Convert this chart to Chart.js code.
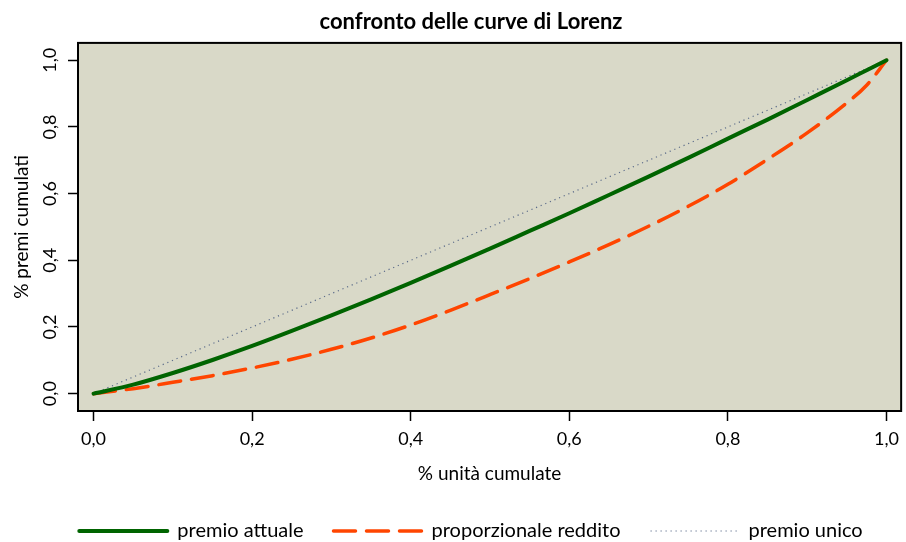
<!DOCTYPE html>
<html>
<head>
<meta charset="utf-8">
<title>confronto delle curve di Lorenz</title>
<script src="https://cdn.jsdelivr.net/npm/chart.js@4"></script>
<style>
    html, body { margin: 0; padding: 0; background: #ffffff; }
    #wrap { width: 906px; height: 542px; }
</style>
</head>
<body>
<div id="wrap"><canvas id="lorenzChart" width="906" height="542"></canvas></div>
<script>
// Data
const quoteUnita = [0, 0.05, 0.1, 0.15, 0.2, 0.25, 0.3, 0.35, 0.4, 0.45, 0.5,
    0.55, 0.6, 0.65, 0.7, 0.75, 0.8, 0.85, 0.9, 0.95, 0.975, 1];
const premioAttuale = [0, 0.027, 0.062, 0.101, 0.143, 0.188, 0.235, 0.283, 0.332, 0.383, 0.435,
    0.488, 0.541, 0.596, 0.651, 0.707, 0.765, 0.822, 0.881, 0.940, 0.970, 1];
const proporzionaleReddito = [0, 0.015, 0.034, 0.054, 0.077, 0.103, 0.133, 0.167, 0.206, 0.250, 0.297,
    0.345, 0.395, 0.447, 0.502, 0.562, 0.628, 0.703, 0.782, 0.872, 0.925, 1];
const premioUnicoX = [0, 1];
const premioUnico = [0, 1];
const tickValues = [0, 0.2, 0.4, 0.6, 0.8, 1.0];
const seriesLabels = ['premio attuale', 'proporzionale reddito', 'premio unico'];

const FONT = 'Lato, "DejaVu Sans", sans-serif';

function toPoints(xs, ys) {
    return xs.map((x, i) => ({ x: x, y: ys[i] }));
}

function fmt(v) {
    return Number(v).toFixed(1).replace('.', ',');
}

// Plot panel: beige background and black frame
const panelBox = {
    id: 'panelBox',
    beforeDatasetsDraw(chart) {
        const { ctx, chartArea: a } = chart;
        ctx.save();
        ctx.fillStyle = '#d9d9c8';
        ctx.fillRect(a.left, a.top, a.width, a.height);
        ctx.restore();
    },
    afterDatasetsDraw(chart) {
        const { ctx, chartArea: a } = chart;
        ctx.save();
        ctx.strokeStyle = '#000';
        ctx.lineWidth = 2;
        ctx.strokeRect(a.left, a.top, a.width, a.height);
        ctx.restore();
    }
};

const ctx = document.getElementById('lorenzChart').getContext('2d');

new Chart(ctx, {
    type: 'line',
    data: {
        datasets: [
            {
                label: seriesLabels[0],
                data: toPoints(quoteUnita, premioAttuale),
                borderColor: '#006400',
                borderWidth: 4,
                borderCapStyle: 'round',
                pointRadius: 0,
                cubicInterpolationMode: 'monotone'
            },
            {
                label: seriesLabels[1],
                data: toPoints(quoteUnita, proporzionaleReddito),
                borderColor: '#ff4500',
                borderWidth: 3.5,
                borderDash: [22, 11],
                borderCapStyle: 'round',
                pointRadius: 0,
                cubicInterpolationMode: 'monotone'
            },
            {
                label: seriesLabels[2],
                data: toPoints(premioUnicoX, premioUnico),
                borderColor: '#5c6c8a',
                borderWidth: 1.2,
                borderDash: [1.2, 3.8],
                pointRadius: 0
            }
        ]
    },
    options: {
        responsive: false,
        animation: false,
        layout: {
            autoPadding: false,
            padding: { left: 38, right: 2, top: 0, bottom: -9 }
        },
        plugins: {
            title: {
                display: true,
                text: 'confronto delle curve di Lorenz',
                color: '#000',
                font: { family: FONT, size: 22, weight: 'bold' },
                padding: { top: 9, bottom: 7.5 }
            },
            legend: {
                position: 'bottom',
                labels: {
                    usePointStyle: true,
                    pointStyle: 'line',
                    pointStyleWidth: 88,
                    padding: 30,
                    color: '#000',
                    font: { family: FONT, size: 20 },
                    generateLabels: chart => chart.data.datasets.map((ds, i) => ({
                        text: ds.label,
                        datasetIndex: i,
                        hidden: false,
                        fillStyle: ds.borderColor,
                        strokeStyle: ds.borderColor,
                        lineWidth: ds.borderWidth,
                        lineDash: ds.borderDash || [],
                        lineCap: ds.borderCapStyle || 'butt',
                        pointStyle: 'line',
                        fontColor: '#000'
                    }))
                }
            },
            tooltip: { enabled: false }
        },
        scales: {
            x: {
                type: 'linear',
                min: -0.0196,
                max: 1.0185,
                afterBuildTicks: s => { s.ticks = tickValues.map(v => ({ value: v })); },
                afterFit: s => { s.height = 80; },
                border: { display: false },
                grid: { drawOnChartArea: false, tickLength: 10, tickColor: '#000', tickWidth: 1.5 },
                ticks: {
                    color: '#000',
                    font: { family: FONT, size: 18 },
                    padding: 7,
                    maxRotation: 0,
                    autoSkip: false,
                    callback: v => fmt(v)
                },
                title: {
                    display: true,
                    text: '% unità cumulate',
                    color: '#000',
                    font: { family: FONT, size: 19 },
                    padding: { top: 0, bottom: 5.6 }
                }
            },
            y: {
                type: 'linear',
                min: -0.052,
                max: 1.052,
                afterBuildTicks: s => { s.ticks = tickValues.map(v => ({ value: v })); },
                afterFit: s => { s.width = 40; },
                border: { display: false },
                grid: { drawOnChartArea: false, tickLength: 10, tickColor: '#000', tickWidth: 1.5 },
                ticks: {
                    color: '#000',
                    font: { family: FONT, size: 18 },
                    padding: 5,
                    minRotation: 90,
                    maxRotation: 90,
                    crossAlign: 'center',
                    autoSkip: false,
                    callback: v => fmt(v)
                },
                title: {
                    display: true,
                    text: '% premi cumulati',
                    color: '#000',
                    font: { family: FONT, size: 19 },
                    padding: { top: -28, bottom: 0 }
                }
            }
        }
    },
    plugins: [panelBox]
});
</script>
</body>
</html>
